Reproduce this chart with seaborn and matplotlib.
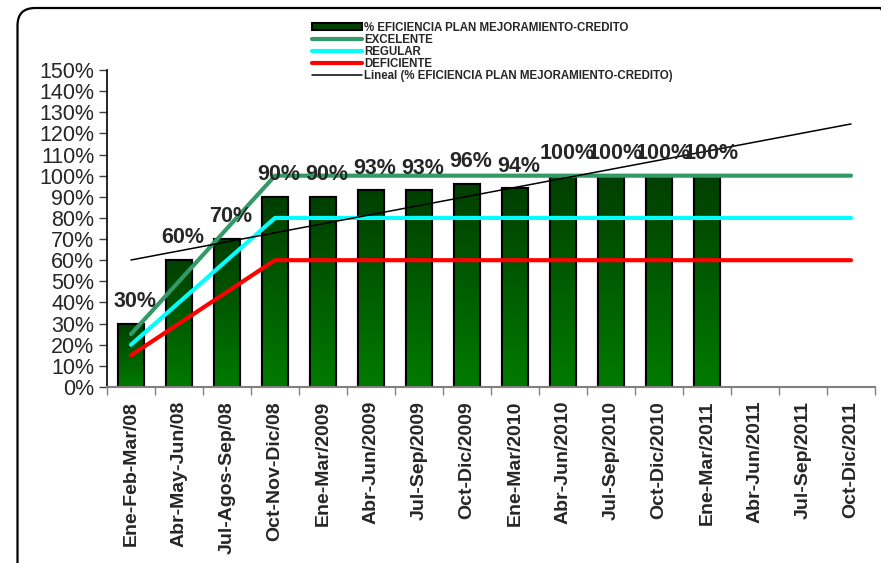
import numpy as np
import pandas as pd
import matplotlib
matplotlib.use("Agg")
import matplotlib.pyplot as plt
import seaborn as sns
from matplotlib.colors import LinearSegmentedColormap
from matplotlib.patches import FancyBboxPatch, Patch
from matplotlib.lines import Line2D
from matplotlib.ticker import FixedLocator, FuncFormatter

# =========================
# DATA
# =========================
periodos = [
    "Ene-Feb-Mar/08", "Abr-May-Jun/08", "Jul-Agos-Sep/08", "Oct-Nov-Dic/08",
    "Ene-Mar/2009", "Abr-Jun/2009", "Jul-Sep/2009", "Oct-Dic/2009",
    "Ene-Mar/2010", "Abr-Jun/2010", "Jul-Sep/2010", "Oct-Dic/2010",
    "Ene-Mar/2011", "Abr-Jun/2011", "Jul-Sep/2011", "Oct-Dic/2011",
]
eficiencia = [30, 60, 70, 90, 90, 93, 93, 96, 94, 100, 100, 100, 100,
              np.nan, np.nan, np.nan]
excelente = [25, 50, 75, 100, 100, 100, 100, 100, 100, 100, 100, 100, 100, 100, 100, 100]
regular = [20, 40, 60, 80, 80, 80, 80, 80, 80, 80, 80, 80, 80, 80, 80, 80]
deficiente = [15, 30, 45, 60, 60, 60, 60, 60, 60, 60, 60, 60, 60, 60, 60, 60]

serie_bar = "% EFICIENCIA PLAN MEJORAMIENTO-CREDITO"

df = pd.DataFrame({"periodo": periodos, "valor": eficiencia})

# =========================
# STYLE
# =========================
sns.set_style("white")
plt.rcParams["font.family"] = ["Liberation Sans", "DejaVu Sans"]

fig = plt.figure(figsize=(8.81, 5.63), dpi=100)
ax = fig.add_axes([107 / 881, 1 - 387 / 563, 768 / 881, 317 / 563])

# =========================
# BARS (with gradient fill)
# =========================
sns.barplot(data=df, x="periodo", y="valor", order=periodos, ax=ax,
            color="#005000", edgecolor="black", linewidth=1.5, width=0.55,
            errorbar=None)

cmap = LinearSegmentedColormap.from_list("verde", ["#003f00", "#007a00"])
grad = np.linspace(0, 1, 256).reshape(-1, 1)
for bar in ax.patches:
    h = bar.get_height()
    if np.isnan(h) or h == 0:
        continue
    x0, w = bar.get_x(), bar.get_width()
    im = ax.imshow(grad, cmap=cmap, aspect="auto", origin="upper",
                   extent=[x0, x0 + w, 0, h], zorder=bar.get_zorder() + 0.1)
    im.set_clip_path(bar)
    edge = plt.Rectangle((x0, 0), w, h, fill=False, edgecolor="black",
                         linewidth=1.5, zorder=bar.get_zorder() + 0.2)
    ax.add_patch(edge)

# data labels
for i, v in enumerate(eficiencia):
    if np.isnan(v):
        continue
    ax.annotate(f"{v:.0f}%", (i, v), xytext=(3, 16), textcoords="offset points",
                ha="center", va="center", fontsize=15.5, fontweight="bold",
                zorder=10)

# =========================
# REFERENCE LINES
# =========================
xs = np.arange(len(periodos))
sns.lineplot(x=xs, y=excelente, color="#339966", linewidth=3, ax=ax, zorder=5)
sns.lineplot(x=xs, y=regular, color="#00ffff", linewidth=3, ax=ax, zorder=5)
sns.lineplot(x=xs, y=deficiente, color="#ff0000", linewidth=3, ax=ax, zorder=5)

# linear trendline (Excel "Lineal")
vals = np.array(eficiencia, dtype=float)
mask = ~np.isnan(vals)
coef = np.polyfit(xs[mask], vals[mask], 1)
ax.plot(xs, np.polyval(coef, xs), color="black", linewidth=1.1, zorder=6)

# =========================
# AXES
# =========================
ax.set_xlim(-0.5, len(periodos) - 0.5)
ax.set_ylim(0, 150)
ax.set_xlabel("")
ax.set_ylabel("")
ax.yaxis.set_major_locator(FixedLocator(np.arange(0, 151, 10)))
ax.yaxis.set_major_formatter(FuncFormatter(lambda v, p: f"{v:.0f}%"))
ax.tick_params(axis="y", labelsize=15.5, length=6, width=1, color="#404040",
               left=True, pad=3)

ax.set_xticks(xs)
ax.set_xticklabels(periodos, rotation=90, fontsize=14, fontweight="bold")
ax.tick_params(axis="x", length=0, pad=10)
ax.set_xticks(np.arange(-0.5, len(periodos), 1), minor=True)
ax.tick_params(axis="x", which="minor", length=6, width=1, color="#808080",
               bottom=True)

for s in ["top", "right"]:
    ax.spines[s].set_visible(False)
ax.spines["left"].set_color("black")
ax.spines["left"].set_linewidth(1.2)
ax.spines["bottom"].set_color("#808080")
ax.spines["bottom"].set_linewidth(1.5)

# =========================
# LEGEND
# =========================
handles = [
    Patch(facecolor="#004000", edgecolor="black", linewidth=1.5),
    Line2D([0], [0], color="#339966", linewidth=3),
    Line2D([0], [0], color="#00ffff", linewidth=3),
    Line2D([0], [0], color="#ff0000", linewidth=3),
    Line2D([0], [0], color="black", linewidth=1.1),
]
labels = [serie_bar, "EXCELENTE", "REGULAR", "DEFICIENTE",
          "Lineal (% EFICIENCIA PLAN MEJORAMIENTO-CREDITO)"]
fig.legend(handles, labels, loc="upper left",
           bbox_to_anchor=(312 / 881, 1 - 22 / 563),
           frameon=False, prop={"size": 8.3, "weight": "bold"},
           handlelength=4.3, handleheight=0.55, handletextpad=0.2,
           labelspacing=0.0, borderpad=0, borderaxespad=0)

# =========================
# FRAME
# =========================
frame = FancyBboxPatch((17.5 / 881, -20 / 563), 880 / 881, 575 / 563,
                       boxstyle="round,pad=0,rounding_size=0.02",
                       transform=fig.transFigure, fill=False,
                       edgecolor="black", linewidth=1.6,
                       mutation_aspect=881 / 563)
fig.patches.append(frame)

fig.savefig("out.png", dpi=100)
